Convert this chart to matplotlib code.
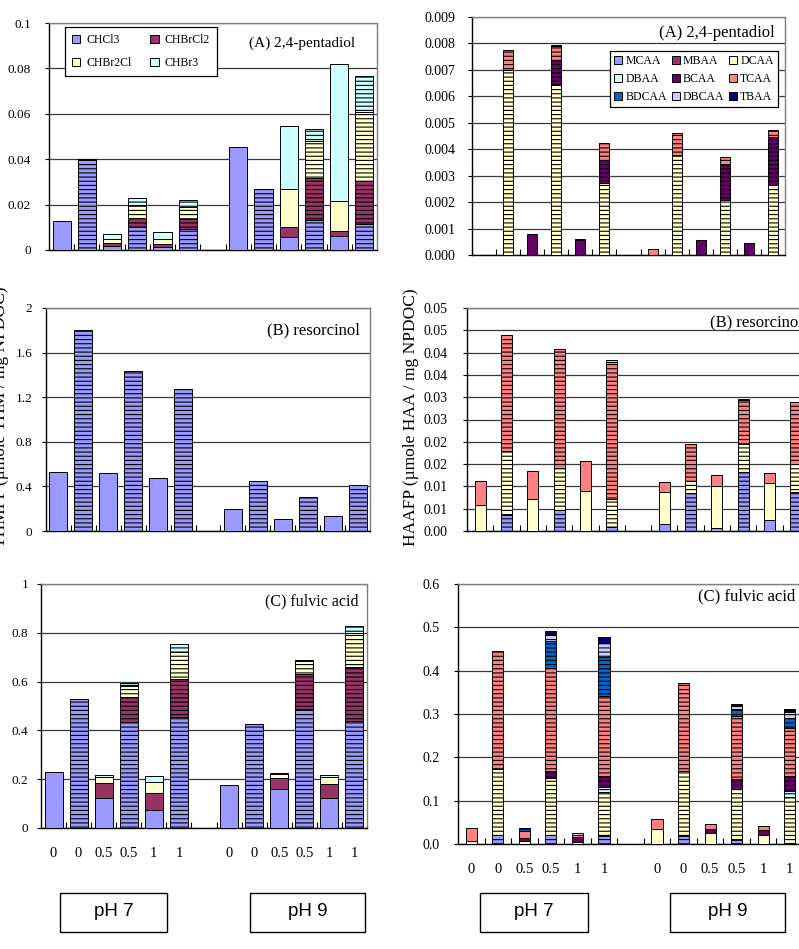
import matplotlib
matplotlib.use('Agg')
import matplotlib.pyplot as plt
from matplotlib.patches import Patch, Rectangle
from matplotlib import font_manager as fm
import numpy as np

# ------------------------------------------------------------------ data
groups = ['pH 7', 'pH 9']
br_doses = ['0', '0', '0.5', '0.5', '1', '1']
thm_species = ['CHCl3', 'CHBrCl2', 'CHBr2Cl', 'CHBr3']
haa_species = ['MCAA', 'MBAA', 'DCAA', 'DBAA', 'BCAA', 'TCAA', 'BDCAA', 'DBCAA', 'TBAA']

# 12 samples per panel: pH 7 (6 samples) then pH 9 (6 samples)
# THMFP (umole THM / mg NPDOC)
thm_pentadiol = {
    'CHCl3':   [0.0128, 0.0399, 0.0019, 0.0100, 0.0015, 0.0091, 0.0453, 0.0270, 0.0056, 0.0132, 0.0062, 0.0113],
    'CHBrCl2': [0, 0, 0.0013, 0.0042, 0.0013, 0.0044, 0, 0, 0.0045, 0.0186, 0.0022, 0.0192],
    'CHBr2Cl': [0, 0, 0.0018, 0.0056, 0.0020, 0.0053, 0, 0, 0.0169, 0.0161, 0.0132, 0.0304],
    'CHBr3':   [0, 0, 0.0019, 0.0029, 0.0030, 0.0032, 0, 0, 0.0278, 0.0056, 0.0605, 0.0158],
}
thm_resorcinol = {
    'CHCl3': [0.529, 1.806, 0.520, 1.432, 0.475, 1.271, 0.197, 0.448, 0.108, 0.308, 0.135, 0.410],
}
thm_fulvic = {
    'CHCl3':   [0.2315, 0.527, 0.125, 0.433, 0.074, 0.453, 0.175, 0.426, 0.160, 0.488, 0.125, 0.437],
    'CHBrCl2': [0, 0, 0.059, 0.105, 0.070, 0.157, 0, 0, 0.045, 0.145, 0.054, 0.221],
    'CHBr2Cl': [0, 0, 0.023, 0.044, 0.044, 0.112, 0, 0, 0.017, 0.053, 0.028, 0.143],
    'CHBr3':   [0, 0, 0.011, 0.013, 0.024, 0.031, 0, 0, 0.005, 0.004, 0.011, 0.026],
}
# HAAFP (umole HAA / mg NPDOC)
haa_pentadiol = {
    'DCAA':  [0, 0.0070, 0, 0.00648, 0, 0.00271, 0, 0.00379, 0, 0.00208, 0, 0.00263],
    'BCAA':  [0, 0, 0.00078, 0.00090, 0.00055, 0.00089, 0, 0, 0.00057, 0.00133, 0.00047, 0.00183],
    'TCAA':  [0, 0.00076, 0, 0.00051, 0.00004, 0.00063, 0.00024, 0.00082, 0, 0.00028, 0, 0.00027],
    'DBCAA': [0, 0, 0, 0.00006, 0, 0, 0, 0, 0, 0, 0, 0],
}
haa_resorcinol = {
    'MCAA':  [0, 0.0035, 0, 0.0046, 0, 0.0009, 0.0016, 0.0085, 0.0007, 0.0132, 0.0025, 0.0087],
    'DCAA':  [0.0059, 0.0144, 0.0072, 0.0095, 0.0090, 0.0063, 0.0071, 0.0028, 0.0093, 0.0062, 0.0082, 0.0064],
    'TCAA':  [0.0054, 0.0260, 0.0063, 0.0267, 0.0068, 0.0306, 0.0023, 0.0081, 0.0026, 0.0100, 0.0022, 0.0138],
    'DBCAA': [0, 0, 0, 0, 0, 0.0005, 0, 0, 0, 0.0002, 0, 0],
}
haa_fulvic = {
    'MCAA':  [0, 0.0215, 0, 0.0215, 0, 0.019, 0, 0.019, 0, 0.010, 0, 0.003],
    'DCAA':  [0.008, 0.152, 0.006, 0.131, 0.004, 0.101, 0.035, 0.150, 0.025, 0.117, 0.0215, 0.105],
    'DBAA':  [0, 0, 0, 0, 0, 0.0115, 0, 0, 0, 0, 0, 0.015],
    'BCAA':  [0, 0, 0.009, 0.016, 0.012, 0.026, 0, 0, 0.010, 0.024, 0.010, 0.033],
    'TCAA':  [0.029, 0.273, 0.014, 0.238, 0.005, 0.183, 0.023, 0.203, 0.012, 0.144, 0.0095, 0.112],
    'BDCAA': [0, 0, 0.006, 0.063, 0, 0.092, 0, 0, 0, 0.017, 0, 0.023],
    'DBCAA': [0, 0, 0, 0.016, 0.004, 0.032, 0, 0, 0, 0.006, 0, 0.014],
    'TBAA':  [0, 0, 0.003, 0.006, 0, 0.014, 0, 0, 0, 0.004, 0, 0.007],
}

thm_yticks = {'A': ['0', '0.02', '0.04', '0.06', '0.08', '0.1'],
              'B': ['0', '0.4', '0.8', '1.2', '1.6', '2'],
              'C': ['0', '0.2', '0.4', '0.6', '0.8', '1']}
thm_ymax = {'A': 0.1, 'B': 2.0, 'C': 1.0}
haa_yticks = {'A': ['0.000', '0.001', '0.002', '0.003', '0.004', '0.005', '0.006', '0.007', '0.008', '0.009'],
              'B': ['0.00', '0.01', '0.01', '0.02', '0.02', '0.03', '0.03', '0.04', '0.04', '0.05', '0.05'],
              'C': ['0.0', '0.1', '0.2', '0.3', '0.4', '0.5', '0.6']}
haa_ymax = {'A': 0.009, 'B': 0.05, 'C': 0.6}
titles = {'A': '(A) 2,4-pentadiol', 'B': '(B) resorcinol', 'C': '(C) fulvic acid'}
thm_ylabel = 'THMFP (µmole THM / mg NPDOC)'
haa_ylabel = 'HAAFP (µmole HAA / mg NPDOC)'

# ------------------------------------------------------------------ style
colors = {
    'CHCl3': '#9999FF', 'CHBrCl2': '#993366', 'CHBr2Cl': '#FFFFCC', 'CHBr3': '#CCFFFF',
    'MCAA': '#9999FF', 'MBAA': '#993366', 'DCAA': '#FFFFCC', 'DBAA': '#CCFFFF',
    'BCAA': '#660066', 'TCAA': '#FF8080', 'BDCAA': '#0066CC', 'DBCAA': '#CCCCFF',
    'TBAA': '#000080',
}
SERIF = 'Liberation Serif'
names = {f.name for f in fm.fontManager.ttflist}
SANS = 'Liberation Sans Narrow' if 'Liberation Sans Narrow' in names else 'Liberation Sans'
plt.rcParams['font.family'] = [SERIF, 'DejaVu Serif']
plt.rcParams['hatch.linewidth'] = 0.8

W, H = 799, 949
fig = plt.figure(figsize=(W / 100, H / 100), dpi=100)


def rect(x0, y0, x1, y1):
    return [x0 / W, 1 - y1 / H, (x1 - x0) / W, (y1 - y0) / H]


# slot positions: 6 pH 7 samples, empty slot, 6 pH 9 samples
pos = np.array([0, 1, 2, 3, 4, 5, 7, 8, 9, 10, 11, 12])
hatched = np.array([False, True] * 6)


def draw(ax, data, species, width, ymax, ticklabels, tickfs, ytickpad, title,
         tx, ty, tha, tfs, xlabels=False):
    bottom = np.zeros(len(pos))
    for sp in species:
        if sp not in data:
            continue
        vals = np.array(data[sp], dtype=float)
        for hmask, hatch in ((~hatched, None), (hatched, '----')):
            m = hmask & (vals > 0)
            if m.any():
                ax.bar(pos[m], vals[m], width, bottom=bottom[m], color=colors[sp],
                       edgecolor='black', linewidth=0.7, hatch=hatch, zorder=3)
        bottom += vals
    ax.set_xlim(-0.5, 12.5)
    ax.set_ylim(0, ymax)
    yt = np.linspace(0, ymax, len(ticklabels))
    ax.set_yticks(yt)
    ax.set_yticklabels(ticklabels, fontsize=tickfs)
    ax.tick_params(axis='y', direction='out', length=3, width=0.8, pad=ytickpad)
    ax.set_xticks(np.arange(0.5, 12, 1))
    ax.set_xticklabels([])
    ax.tick_params(axis='x', which='major', direction='in', length=4, width=0.8)
    if xlabels:
        ax.set_xticks(pos, labels=br_doses * 2, minor=True)
        ax.tick_params(axis='x', which='minor', length=0, pad=13.5, labelsize=10.5)
    ax.grid(axis='y', color='#3a3a3a', linewidth=0.9)
    ax.set_axisbelow(True)
    for s in ('top', 'right'):
        ax.spines[s].set_color('#808080')
    for s in ('left', 'bottom'):
        ax.spines[s].set_color('black')
    for s in ax.spines.values():
        s.set_linewidth(1.0)
    ax.text(tx, ty, title, transform=ax.transAxes, ha=tha, va='center', fontsize=tfs,
            zorder=6)


# ---- left column: THM
axA = fig.add_axes(rect(49, 23, 377, 250))
draw(axA, thm_pentadiol, thm_species, 0.72, thm_ymax['A'], thm_yticks['A'], 9.5, 10,
     titles['A'], 0.933, 0.912, 'right', 11)
axB = fig.add_axes(rect(46, 308, 370, 531))
draw(axB, thm_resorcinol, thm_species, 0.72, thm_ymax['B'], thm_yticks['B'], 9.5, 7,
     titles['B'], 0.969, 0.901, 'right', 12)
axC = fig.add_axes(rect(41, 584, 367, 828))
draw(axC, thm_fulvic, thm_species, 0.72, thm_ymax['C'], thm_yticks['C'], 9.5, 6,
     titles['C'], 0.975, 0.930, 'right', 11.5, xlabels=True)

# ---- right column: HAA
axD = fig.add_axes(rect(472, 17, 785, 255))
draw(axD, haa_pentadiol, haa_species, 0.42, haa_ymax['A'], haa_yticks['A'], 10, 9,
     titles['A'], 0.968, 0.933, 'right', 12)
axE = fig.add_axes(rect(467, 308, 809, 531))
draw(axE, haa_resorcinol, haa_species, 0.42, haa_ymax['B'], haa_yticks['B'], 10, 11,
     titles['B'], 0.711, 0.937, 'left', 12)
axF = fig.add_axes(rect(458, 584, 803, 844))
draw(axF, haa_fulvic, haa_species, 0.42, haa_ymax['C'], haa_yticks['C'], 10, 10,
     titles['C'], 0.977, 0.954, 'right', 12, xlabels=True)

# ---- legends
order_thm = [0, 2, 1, 3]
h_thm = [Patch(facecolor=colors[thm_species[i]], edgecolor='black', linewidth=0.7,
               label=thm_species[i]) for i in order_thm]
leg1 = axA.legend(handles=h_thm, ncol=2, loc='upper left', bbox_to_anchor=(0.049, 0.982),
                  borderaxespad=0, fontsize=8.5, handlelength=0.7, handleheight=0.7,
                  handletextpad=0.5, columnspacing=1.6, labelspacing=0.95, borderpad=0.6,
                  fancybox=False, framealpha=1, edgecolor='black')
leg1.get_frame().set_linewidth(0.9)
leg1.set_zorder(10)

order_haa = [0, 3, 6, 1, 4, 7, 2, 5, 8]
h_haa = [Patch(facecolor=colors[haa_species[i]], edgecolor='black', linewidth=0.7,
               label=haa_species[i]) for i in order_haa]
leg2 = axD.legend(handles=h_haa, ncol=3, loc='upper left', bbox_to_anchor=(0.441, 0.857),
                  borderaxespad=0, fontsize=8.5, handlelength=0.7, handleheight=0.7,
                  handletextpad=0.25, columnspacing=0.4, labelspacing=0.5, borderpad=0.35,
                  fancybox=False, framealpha=1, edgecolor='black')
leg2.get_frame().set_linewidth(0.9)
leg2.set_zorder(10)

# ---- y axis labels
fig.text(1 / W, 1 - 417 / H, thm_ylabel, rotation=90, ha='center', va='center',
         fontsize=12.5)
fig.text(411 / W, 1 - 417 / H, haa_ylabel, rotation=90, ha='center', va='center',
         fontsize=12.5)

# ---- pH boxes
boxes = [(60, 167, groups[0]), (250, 365, groups[1]), (480, 588, groups[0]), (670, 785, groups[1])]
for x0, x1, lab in boxes:
    fig.add_artist(Rectangle((x0 / W, 1 - 932 / H), (x1 - x0) / W, 39 / H,
                             transform=fig.transFigure, fill=False, edgecolor='black',
                             linewidth=1.0))
    fig.text((x0 + x1) / 2 / W, 1 - 912 / H, lab, ha='center', va='center',
             fontsize=15 if 'Narrow' in SANS else 13.5, family=SANS)

fig.savefig('out.png', dpi=100)
